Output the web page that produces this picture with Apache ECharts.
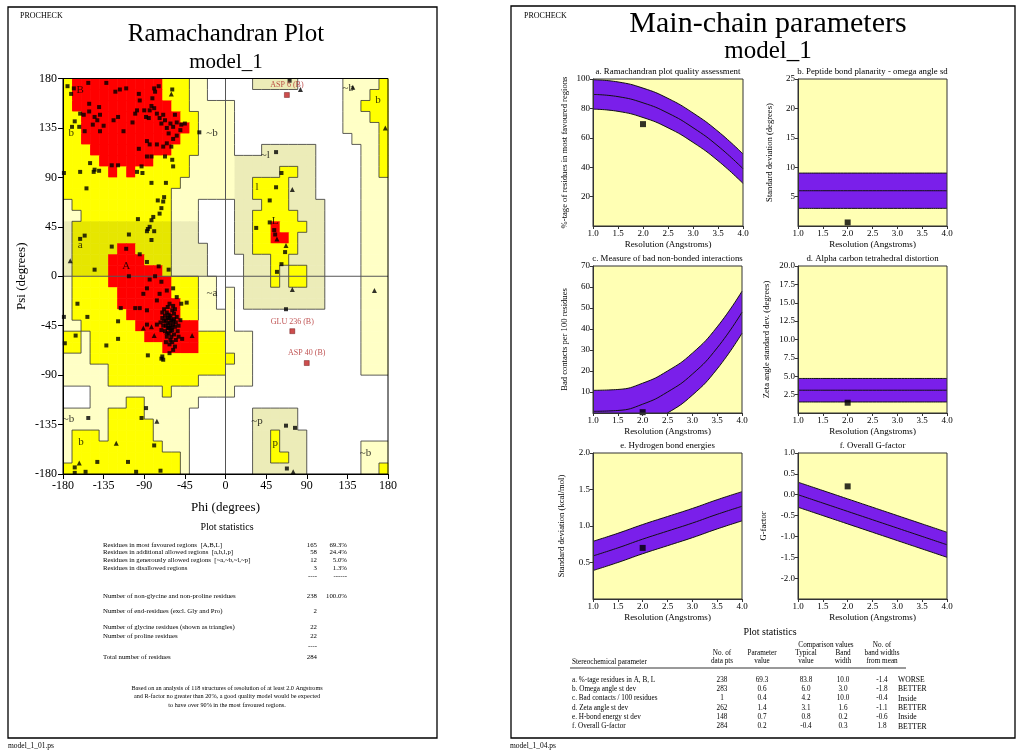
<!DOCTYPE html>
<html><head><meta charset="utf-8">
<script src="https://cdn.jsdelivr.net/npm/echarts/dist/echarts.min.js"></script>
<style>html,body{margin:0;padding:0;background:#fff}#c{width:1017px;height:753px}</style>
</head><body><div id="c"></div>
<script>
// ================= DATA =================
// Ramachandran region map: 36 rows (psi 180 -> -180, 10 deg each), run-length coded, 36 cols (phi -180 -> 180)
// R core, Y allowed, O allowed (tinted), P generous, B generous (tinted), W disallowed
const regionRows = [
 'Y1R10Y3P2W5B5W5P4Y1','Y1R10Y3P2W15P3Y2','Y1R11Y2P5W12P2Y3','Y2R11Y2P4W12P3Y2',
 'Y2R12Y1P4W12P4Y1','Y2R11Y2P4W13P3Y1','Y3R9Y3P4W3B6W5P2Y1','Y4R6Y4P5B9W5P2Y1',
 'Y5R1Y1R1Y6P5B5Y2B2W5P2Y1','Y13P6B2Y4B3W5P3','Y12P7B2Y4B3W5P3','P1Y11P3W4B3Y3B4W4P3',
 'P2Y10P3W4B2Y5B3W4P3','B1O11B3W4B2Y2R1Y3B2W4P3','B1O11B3W4B2Y2R2Y1B3W4P3','B1O5R2O4B4W3B2Y5B3W4P3',
 'B1O4R4O3B4W4B3Y2B4W4P3','B1O4R6O1B4W4B3Y1B1Y2B2W4P3','P1Y4R7Y3P2W3B3Y1B1Y2B2W4P3','P1Y5R6Y3P2W1P1W1B9W4P3',
 'P1Y5R7Y2P2W1P1W1B9W4P3','P1Y6R6Y2P4W14P3','P2Y6R7P4W14P3','Y2P1Y6R6Y3P3W12P3',
 'Y2P1Y8R4Y3P3W12P3','P3Y16P2W12P3','P5Y13P3W12P3','P5Y10P6W15',
 'W3P8Y1P7W17','W3P4Y2P6W21','P5Y4P5W7B5W10','P5Y5P4W7B5W10',
 'P1Y3P1Y5P4W7B2Y1B3W9','P1Y10P3W7B2Y1B3W6P3','P1Y12P1W7B2Y2B2W6P3','Y13P1W7B6W6P2Y1'
];
const regionCodes = ['R','Y','O','P','B','W'];
const regionLabels = [
 ['B',-161,169],['b',-171,130],['A',-110,9],['a',-161,28],['L',55,50],['~b',-15,130],['~a',-15,-15],
 ['~l',44,110],['l',35,81],['~b',136,171],['b',169,160],['~b',-174,-130],['b',-160,-151],
 ['~p',35,-132],['p',55,-152],['~b',155,-161]
];
const residuePts = [
 [-175,173],[-171,166],[-168,171],[-152,176],[-132,176],[-122,168],[-117,170],[-110,171],[-96,166],[-78,168],
 [-74,173],[-79,171],[-81,162],[-59,170],[-140,154],[-151,157],[-161,148],[-157,147],[-151,150],[-145,145],
 [-142,142],[-139,147],[-147,138],[-156,132],[-162,136],[-170,136],[-167,141],[-139,132],[-135,137],[-124,142],
 [-119,145],[-113,132],[-103,140],[-100,148],[-98,151],[-95,160],[-90,151],[-88,145],[-85,144],[-84,151],
 [-82,155],[-79,153],[-76,148],[-73,144],[-71,139],[-69,147],[-67,142],[-65,135],[-63,130],[-61,139],
 [-58,136],[-56,147],[-54,140],[-50,133],[-49,138],[-45,139],[-58,125],[-54,128],[-60,118],[-65,121],
 [-69,118],[-76,120],[-84,120],[-87,123],[-96,116],[-87,109],[-82,109],[-67,109],[-59,106],[-58,100],
 [-126,101],[-145,97],[-150,103],[-161,95],[-140,96],[-119,101],[-93,100],[-98,95],[-92,94],[-29,131],
 [-179,94],[-154,80],[-146,95],[-82,85],[-66,85],[-68,72],[-75,69],[-69,68],[-71,62],[-73,57],
 [-80,54],[-82,51],[-84,45],[-86,43],[-87,41],[-79,41],[-82,33],[-97,52],[-107,38],[-126,27],
 [-110,25],[-95,20],[-87,13],[-74,9],[-63,6],[-78,0],[-145,6],[-161,34],[-156,37],[-107,0],
 [71,178],[56,113],[62,94],[56,81],[49,69],[49,49],[34,44],[54,42],[55,38],[66,22],[62,11],[57,4],
 [-91,-16],[-95,-29],[-100,-29],[-116,-29],[-87,-31],[-76,-22],[-73,-16],[-65,-13],[-58,-11],[-54,-19],
 [-49,-25],[-43,-24],[-87,-11],[-84,-3],[-71,-5],
 [-60,-40],[-62,-42],[-64,-38],[-58,-44],[-66,-45],[-61,-36],[-57,-39],[-63,-47],[-68,-41],[-55,-42],
 [-59,-49],[-65,-33],[-52,-45],[-70,-38],[-63,-52],[-57,-34],[-67,-50],[-61,-45],[-54,-37],[-60,-55],
 [-64,-43],[-58,-41],[-62,-38],[-66,-40],[-60,-47],[-56,-46],[-69,-45],[-63,-35],[-59,-31],[-67,-36],
 [-53,-50],[-61,-58],[-65,-55],[-72,-42],[-57,-53],[-50,-40],[-64,-28],[-68,-30],[-58,-27],[-62,-25],
 [-71,-49],[-55,-58],[-62,-62],[-59,-60],[-66,-60],[-52,-55],[-70,-33],[-56,-30],[-61,-50],[-64,-47],
 [-76,-44],[-87,-44],[-48,-57],[-56,-64],[-58,-67],[-62,-70],[-70,-73],[-69,-76],[-71,-75],[-86,-72],
 [-119,-41],[-119,-57],[-132,-63],[-153,-37],[-164,-25],[-166,-54],[-179,-37],[-178,-61],
 [-88,-120],[-93,-129],[-152,-129],[-79,-154],[-142,-169],[-108,-169],[-167,-174],[-167,-179],[-155,-178],
 [-99,-178],[-72,-177],[67,-30],[67,-136],[77,-138],[68,-175]
];
const glycinePts = [
 [83,170],[141,172],[177,135],[74,79],[57,34],[67,28],[-172,14],[74,-12],[165,-13],[-60,166],
 [-82,-46],[-79,-54],[-91,-47],[-37,-54],[-76,-132],[-121,-152],[-162,-170],[75,-178],[-65,-51]
];
const flaggedNames = ['ASP 6 (B)','GLU 236 (B)','ASP 40 (B)'];
const flaggedPts = [[68,165],[74,-50],[90,-79]];

const statLabels = ['Residues in most favoured regions  [A,B,L]','Residues in additional allowed regions  [a,b,l,p]',
 'Residues in generously allowed regions  [~a,~b,~l,~p]','Residues in disallowed regions'];
const statCounts = ['165','58','12','3'];
const statPercents = ['69.3%','24.4%','5.0%','1.3%'];
const countLabels = ['Number of non-glycine and non-proline residues','Number of end-residues (excl. Gly and Pro)',
 'Number of glycine residues (shown as triangles)','Number of proline residues','Total number of residues'];
const countValues = ['238','2','22','22','284'];
const footnote = ['Based on an analysis of 118 structures of resolution of at least 2.0 Angstroms',
 'and R-factor no greater than 20%, a good quality model would be expected','to have over 90% in the most favoured regions.'];

// Main-chain panels
const resolution = [1.0,1.5,2.0,2.5,3.0,3.5,4.0];
const panelTitles = ['a. Ramachandran plot quality assessment','b. Peptide bond planarity - omega angle sd',
 'c. Measure of bad non-bonded interactions','d. Alpha carbon tetrahedral distortion','e. Hydrogen bond energies','f. Overall G-factor'];
const panelYNames = ['%-tage of residues in most favoured regions','Standard deviation (degrees)','Bad contacts per 100 residues',
 'Zeta angle standard dev. (degrees)','Standard deviation (kcal/mol)','G-factor'];
const panelYMin = [0,0,0,0,0,-2.5];
const panelYMax = [100,25,70,20,2.0,1.0];
const panelYStep = [20,5,10,2.5,0.5,0.5];
const panelYDecimals = [0,0,0,1,1,1];
const bandCentreA = [89.5,88.0,83.8,76.8,66.9,54.4,39.0];
const bandCentreB = [6.0,6.0,6.0,6.0,6.0,6.0,6.0];
const bandCentreC = [0.8,1.2,4.2,10.0,18.5,31.0,48.0];
const bandCentreD = [3.1,3.1,3.1,3.1,3.1,3.1,3.1];
const bandCentreE = [0.59,0.70,0.82,0.93,1.04,1.16,1.27];
const bandCentreF = [0.0,-0.2,-0.4,-0.6,-0.8,-1.0,-1.2];
const bandHalfWidth = [10,3,10,1.6,0.2,0.3];
const modelResolution = 2.0;
const modelValues = [69.3,0.6,0.4,1.4,0.7,0.2];

const tableParams = ['a. %-tage residues in A, B, L','b. Omega angle st dev','c. Bad contacts / 100 residues',
 'd. Zeta angle st dev','e. H-bond energy st dev','f. Overall G-factor'];
const tableDataPts = ['238','283','1','262','148','284'];
const tableParamValue = ['69.3','0.6','0.4','1.4','0.7','0.2'];
const tableTypical = ['83.8','6.0','4.2','3.1','0.8','-0.4'];
const tableBandWidth = ['10.0','3.0','10.0','1.6','0.2','0.3'];
const tableFromMean = ['-1.4','-1.8','-0.4','-1.1','-0.6','1.8'];
const tableVerdict = ['WORSE','BETTER','Inside','BETTER','Inside','BETTER'];

// ================= LAYOUT / STYLE =================
const FONT = '"Liberation Serif","DejaVu Serif",serif';
const regionColor = {R:'#FF0000',Y:'#FFFF00',O:'#E6E600',P:'#FFFFC6',B:'#ECECB8',W:'#FFFFFF'};
const regionLevel = {R:3,Y:2,O:2,P:1,B:1,W:0};
const PURPLE = '#7A1FEA', PANEL_BG = '#FFFFB4';
const ramaGrid = {left:63, top:78.5, width:325, height:395.5};
const panelGrids = [[593,79,150,147],[798,79,149,147],[593,266,149,147],[798,266,149,147],[593,453,149,146],[798,453,149,146]];
const bandCentres = [bandCentreA,bandCentreB,bandCentreC,bandCentreD,bandCentreE,bandCentreF];

function expandRow(s){const out=[];s.replace(/([A-Z])(\d+)/g,(m,ch,n)=>{for(let i=0;i<+n;i++)out.push(ch);return m;});return out;}
const regionGrid = regionRows.map(expandRow);

const cells = [];
regionGrid.forEach((row,r)=>row.forEach((code,c)=>cells.push([-180+10*c,180-10*r,regionCodes.indexOf(code)])));
const segs = [];
for(let r=0;r<36;r++)for(let c=0;c<36;c++){
  const a=regionGrid[r][c];
  if(c<35){const b=regionGrid[r][c+1]; if(a!=='R'&&b!=='R'&&regionLevel[a]!==regionLevel[b]) segs.push([-170+10*c,180-10*r,-170+10*c,170-10*r]);}
  if(r<35){const b=regionGrid[r+1][c]; if(a!=='R'&&b!=='R'&&regionLevel[a]!==regionLevel[b]) segs.push([-180+10*c,170-10*r,-170+10*c,170-10*r]);}
}

const grids=[{left:ramaGrid.left,top:ramaGrid.top,width:ramaGrid.width,height:ramaGrid.height}];
const xAxes=[{gridIndex:0,type:'value',min:-180,max:180,interval:45,z:10,
  axisLine:{onZero:false,lineStyle:{color:'#000',width:1}},axisTick:{length:5,lineStyle:{color:'#000'}},
  axisLabel:{fontFamily:FONT,fontSize:12,color:'#000',margin:6},splitLine:{show:false},
  name:'Phi (degrees)',nameLocation:'middle',nameGap:27,nameTextStyle:{fontFamily:FONT,fontSize:13,color:'#000'}}];
const yAxes=[{gridIndex:0,type:'value',min:-180,max:180,interval:45,z:10,
  axisLine:{onZero:false,lineStyle:{color:'#000',width:1}},axisTick:{length:5,lineStyle:{color:'#000'}},
  axisLabel:{fontFamily:FONT,fontSize:12,color:'#000',margin:6},splitLine:{show:false},
  name:'Psi (degrees)',nameLocation:'middle',nameGap:35,nameTextStyle:{fontFamily:FONT,fontSize:13,color:'#000'}}];

const series=[
 {type:'custom',xAxisIndex:0,yAxisIndex:0,data:cells,encode:{x:0,y:1},z:1,silent:true,
  renderItem:(p,api)=>{const a=api.coord([api.value(0),api.value(1)]),b=api.coord([api.value(0)+10,api.value(1)-10]);
   return {type:'rect',shape:{x:a[0],y:a[1],width:b[0]-a[0]+0.6,height:b[1]-a[1]+0.6},style:{fill:regionColor[regionCodes[api.value(2)]]}};}},
 {type:'custom',xAxisIndex:0,yAxisIndex:0,data:segs,encode:{x:[0,2],y:[1,3]},z:2,silent:true,
  renderItem:(p,api)=>{const a=api.coord([api.value(0),api.value(1)]),b=api.coord([api.value(2),api.value(3)]);
   return {type:'line',shape:{x1:a[0],y1:a[1],x2:b[0],y2:b[1]},style:{stroke:'#333',lineWidth:0.8}};}},
 {type:'custom',xAxisIndex:0,yAxisIndex:0,data:[[0,-180,0,180],[-180,0,180,0]],encode:{x:[0,2],y:[1,3]},z:3,silent:true,
  renderItem:(p,api)=>{const a=api.coord([api.value(0),api.value(1)]),b=api.coord([api.value(2),api.value(3)]);
   return {type:'line',shape:{x1:a[0],y1:a[1],x2:b[0],y2:b[1]},style:{stroke:'#555',lineWidth:1}};}},
 {type:'scatter',xAxisIndex:0,yAxisIndex:0,data:regionLabels.map(l=>({value:[l[1],l[2]],name:l[0]})),symbolSize:1,z:4,
  itemStyle:{color:'rgba(0,0,0,0)'},label:{show:true,position:'inside',formatter:'{b}',fontFamily:FONT,
   fontSize:11,color:'#000'}},
 {type:'scatter',xAxisIndex:0,yAxisIndex:0,data:residuePts,symbol:'rect',symbolSize:4,itemStyle:{color:'#000'},z:5},
 {type:'scatter',xAxisIndex:0,yAxisIndex:0,data:glycinePts,symbol:'triangle',symbolSize:5,itemStyle:{color:'#000'},z:5},
 {type:'scatter',xAxisIndex:0,yAxisIndex:0,data:flaggedPts.map((p,i)=>({value:p,name:flaggedNames[i]})),symbol:'rect',symbolSize:5,
  itemStyle:{color:'#C02020',borderColor:'#500',borderWidth:0.5},z:6,
  label:{show:true,position:'top',distance:3,formatter:'{b}',fontFamily:FONT,fontSize:8,color:'#B02828'}}
];

const graphics=[
 {type:'rect',z:100,shape:{x:8,y:7,width:429,height:731},style:{fill:'none',stroke:'#000',lineWidth:1.3}},
 {type:'rect',z:100,shape:{x:511,y:6,width:504,height:732},style:{fill:'none',stroke:'#000',lineWidth:1.3}},
 {type:'rect',z:100,shape:{x:ramaGrid.left,y:ramaGrid.top,width:ramaGrid.width,height:ramaGrid.height},style:{fill:'none',stroke:'#000',lineWidth:1}}
];
function txt(t,x,y,size,align,color){return {type:'text',z:100,x:x,y:y,style:{text:t,font:size+'px '+FONT,fill:color||'#000',
  textAlign:align||'left',align:align||'left',textVerticalAlign:'middle',verticalAlign:'middle'}};}

// left page texts
graphics.push(txt('PROCHECK',20,16,8),txt('Ramachandran Plot',226,34,25,'center'),txt('model_1',226,62,21,'center'),
 txt('Plot statistics',227,527,10,'center'),txt('model_1_01.ps',8,746,7.5));
statLabels.forEach((t,i)=>{const y=545+7.6*i;graphics.push(txt(t,103,y,6.8),txt(statCounts[i],317,y,6.8,'right'),txt(statPercents[i],347,y,6.8,'right'));});
graphics.push(txt('----',317,576,6.8,'right'),txt('------',347,576,6.8,'right'));
const countY=[596,611,627,636,657];
countLabels.forEach((t,i)=>{graphics.push(txt(t,103,countY[i],6.8),txt(countValues[i],317,countY[i],6.8,'right'));});
graphics.push(txt('100.0%',347,596,6.8,'right'),txt('----',317,646,6.8,'right'));
footnote.forEach((t,i)=>graphics.push(txt(t,227,688+8.5*i,6.2,'center')));

// right page texts
graphics.push(txt('PROCHECK',524,16,8),txt('Main-chain parameters',768,24,30,'center'),txt('model_1',768,51,25,'center'),
 txt('Plot statistics',770,632,10,'center'),txt('model_1_04.ps',510,746,7.5));
const colX={pts:722,val:762,typ:806,band:843,mean:882};
graphics.push(txt('Comparison values',826,645,7.2,'center'),txt('No. of',882,645,7.2,'center'),
 txt('No. of',colX.pts,653,7.2,'center'),txt('Parameter',colX.val,653,7.2,'center'),txt('Typical',colX.typ,653,7.2,'center'),
 txt('Band',colX.band,653,7.2,'center'),txt('band widths',colX.mean,653,7.2,'center'),
 txt('data pts',colX.pts,661,7.2,'center'),txt('value',colX.val,661,7.2,'center'),txt('value',colX.typ,661,7.2,'center'),
 txt('width',colX.band,661,7.2,'center'),txt('from mean',colX.mean,661,7.2,'center'),txt('Stereochemical parameter',572,662,7.2),
 {type:'line',z:100,shape:{x1:570,y1:668,x2:906,y2:668},style:{stroke:'#000',lineWidth:0.8}});
tableParams.forEach((t,i)=>{const y=680+9.3*i;graphics.push(txt(t,572,y,7.2),txt(tableDataPts[i],colX.pts,y,7.2,'center'),
 txt(tableParamValue[i],colX.val,y,7.2,'center'),txt(tableTypical[i],colX.typ,y,7.2,'center'),txt(tableBandWidth[i],colX.band,y,7.2,'center'),
 txt(tableFromMean[i],colX.mean,y,7.2,'center'),txt(tableVerdict[i],898,y,7.6));});

// panels
panelGrids.forEach((g,i)=>{
  const gi=i+1;
  grids.push({left:g[0],top:g[1],width:g[2],height:g[3],show:true,backgroundColor:PANEL_BG,borderWidth:0});
  const dec=panelYDecimals[i];
  xAxes.push({gridIndex:gi,type:'value',min:1,max:4,interval:0.5,z:10,axisLine:{onZero:false,lineStyle:{color:'#333'}},
    axisTick:{length:3,lineStyle:{color:'#333'}},splitLine:{show:false},
    axisLabel:{fontFamily:FONT,fontSize:9,color:'#000',margin:3,formatter:v=>v.toFixed(1)},
    name:'Resolution (Angstroms)',nameLocation:'middle',nameGap:14,nameTextStyle:{fontFamily:FONT,fontSize:9,color:'#000'}});
  yAxes.push({gridIndex:gi,type:'value',min:panelYMin[i],max:panelYMax[i],interval:panelYStep[i],z:10,
    axisLine:{onZero:false,lineStyle:{color:'#333'}},axisTick:{length:3,lineStyle:{color:'#333'}},splitLine:{show:false},
    axisLabel:{fontFamily:FONT,fontSize:9,color:'#000',margin:3,showMinLabel:false,formatter:v=>v.toFixed(dec)},
    name:panelYNames[i],nameLocation:'middle',nameGap:i===5?30:(dec?27:24),nameTextStyle:{fontFamily:FONT,fontSize:8.6,color:'#000'}});
  const mid=bandCentres[i],hw=bandHalfWidth[i];
  const common={xAxisIndex:gi,yAxisIndex:gi,type:'line',smooth:true,symbol:'none',silent:true};
  series.push(Object.assign({},common,{data:resolution.map((x,j)=>[x,mid[j]+hw]),z:2,lineStyle:{color:'#111',width:1},
    areaStyle:{color:PURPLE,opacity:1,origin:'start'}}));
  series.push(Object.assign({},common,{data:resolution.map((x,j)=>[x,mid[j]-hw]),z:3,lineStyle:{color:'#111',width:1},
    areaStyle:{color:PANEL_BG,opacity:1,origin:'start'}}));
  series.push(Object.assign({},common,{data:resolution.map((x,j)=>[x,mid[j]]),z:4,lineStyle:{color:'#111',width:1}}));
  series.push({type:'scatter',xAxisIndex:gi,yAxisIndex:gi,data:[[modelResolution,modelValues[i]]],symbol:'rect',symbolSize:6,
    itemStyle:{color:'#000'},z:6});
  graphics.push({type:'rect',z:100,shape:{x:g[0],y:g[1],width:g[2],height:g[3]},style:{fill:'none',stroke:'#333',lineWidth:1}});
  graphics.push(txt(panelTitles[i],g[0]+g[2]/2,g[1]-7,8.8,'center'));
});

const chart=echarts.init(document.getElementById('c'),null,{renderer:'canvas'});
chart.setOption({animation:false,backgroundColor:'#fff',grid:grids,xAxis:xAxes,yAxis:yAxes,series:series,graphic:{elements:graphics}});
</script></body></html>
